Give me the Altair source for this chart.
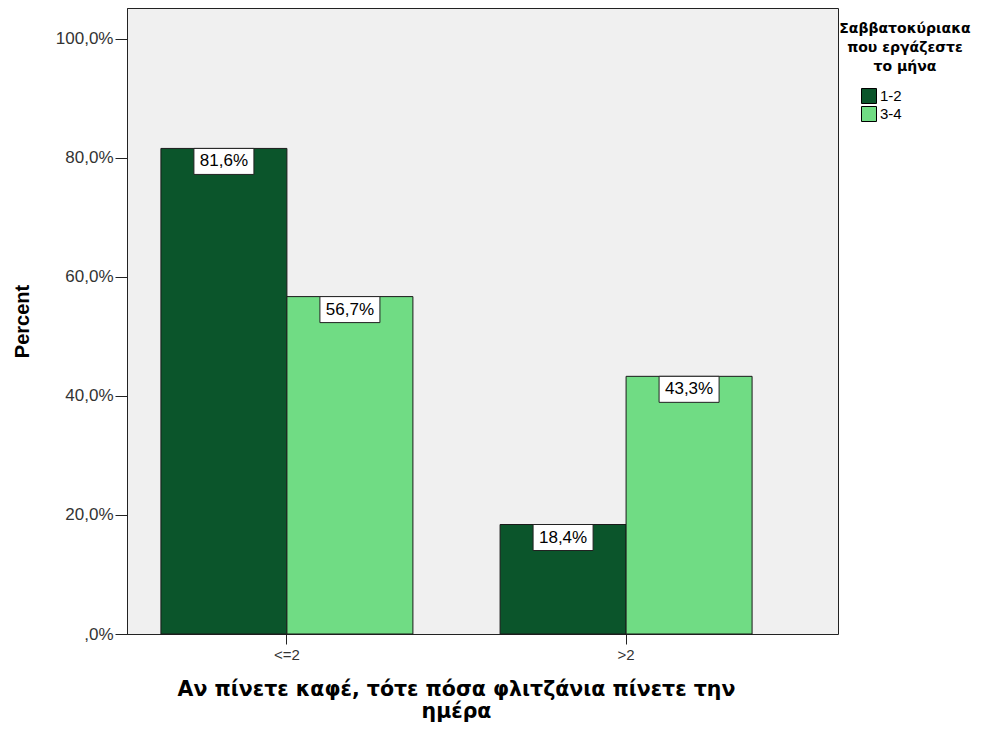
import altair as alt
import pandas as pd

# ---- data ----
categories = ["<=2", "<=2", ">2", ">2"]
groups = ["1-2", "3-4", "1-2", "3-4"]
percents = [81.6, 56.7, 18.4, 43.3]
labels = [f"{v:.1f}%".replace(".", ",") for v in percents]

cat_order = ["<=2", ">2"]
group_order = ["1-2", "3-4"]
group_colors = ["#0b552b", "#70dc84"]
y_ticks = [0, 20, 40, 60, 80, 100]

legend_title = ["Σαββατοκύριακα", "που εργάζεστε", "το μήνα"]
x_title = ["Αν πίνετε καφέ, τότε πόσα φλιτζάνια πίνετε την", "ημέρα"]
y_title = "Percent"

df = pd.DataFrame({"cat": categories, "grp": groups, "pct": percents, "label": labels})

PLOT_W, PLOT_H = 711, 626

x_enc = alt.X(
    "cat:N",
    sort=cat_order,
    scale=alt.Scale(range=[0, 659], paddingInner=0.257, paddingOuter=0.1),
    axis=alt.Axis(
        title=x_title,
        titleFont="DejaVu Sans",
        titleFontSize=20.5,
        titleFontWeight="bold",
        titleColor="black",
        titleLineHeight=22,
        titleX=329,
        titleY=45,
        titleAlign="center",
        titleBaseline="top",
        labelAngle=0,
        labelFont="Liberation Sans",
        labelFontSize=15,
        labelColor="#333333",
        labelPadding=3,
        tickSize=10,
        tickColor="#222222",
        domainColor="#222222",
        grid=False,
    ),
)
xoff_enc = alt.XOffset("grp:N", sort=group_order, scale=alt.Scale(paddingInner=0, paddingOuter=0))
y_enc = alt.Y(
    "pct:Q",
    scale=alt.Scale(domain=[0, 105.2], nice=False, zero=True),
    axis=alt.Axis(
        values=y_ticks,
        labelExpr="datum.value == 0 ? ',0%' : replace(format(datum.value, '.1f'), '.', ',') + '%'",
        title=y_title,
        titleFont="Liberation Sans",
        titleFontSize=20,
        titleFontWeight="bold",
        titleColor="black",
        titleX=-105,
        titleY=313,
        titleAngle=-90,
        titleAlign="center",
        titleBaseline="middle",
        labelFont="Liberation Sans",
        labelFontSize=17,
        labelColor="#333333",
        labelPadding=2,
        tickSize=12,
        tickColor="#222222",
        domainColor="#222222",
        grid=False,
    ),
)

bars = alt.Chart(df).mark_bar(stroke="#1a1a1a", strokeWidth=1, opacity=1).encode(
    x=x_enc,
    xOffset=xoff_enc,
    y=y_enc,
    color=alt.Color(
        "grp:N",
        sort=group_order,
        scale=alt.Scale(domain=group_order, range=group_colors),
        legend=alt.Legend(
            title=legend_title,
            orient="none",
            legendX=712,
            legendY=14,
            padding=0,
            titleFont="DejaVu Sans",
            titleFontSize=14,
            titleFontWeight="bold",
            titleColor="black",
            titleAlign="center",
            titleAnchor="middle",
            titleLineHeight=19,
            titlePadding=14,
            symbolType="square",
            symbolSize=225,
            symbolStrokeColor="black",
            symbolStrokeWidth=1,
            symbolOpacity=1,
            symbolOffset=-48,
            labelFont="Liberation Sans",
            labelFontSize=15,
            labelColor="black",
            labelOffset=3,
            rowPadding=-2,
        ),
    ),
)

boxes = alt.Chart(df).mark_point(
    shape="M-1,-0.4333L1,-0.4333L1,0.4333L-1,0.4333Z",
    size=3600,
    filled=True,
    fill="white",
    stroke="#222222",
    strokeWidth=1,
    opacity=1,
    yOffset=13,
).encode(x=x_enc, xOffset=xoff_enc, y=y_enc)

texts = alt.Chart(df).mark_text(
    font="Liberation Sans",
    fontSize=17,
    color="black",
    baseline="middle",
    align="center",
    yOffset=13,
).encode(x=x_enc, xOffset=xoff_enc, y=y_enc, text="label:N")

chart = (
    alt.layer(bars, boxes, texts)
    .properties(
        width=PLOT_W,
        height=PLOT_H,
        autosize=alt.AutoSizeParams(type="none"),
        padding={"left": 119, "top": 0, "right": 135, "bottom": 89},
        background="white",
    )
    .configure_view(fill="#f0f0f0", stroke="#222222", strokeWidth=1)
)

chart.save("out.html", embed_options={"renderer": "svg", "actions": False})
